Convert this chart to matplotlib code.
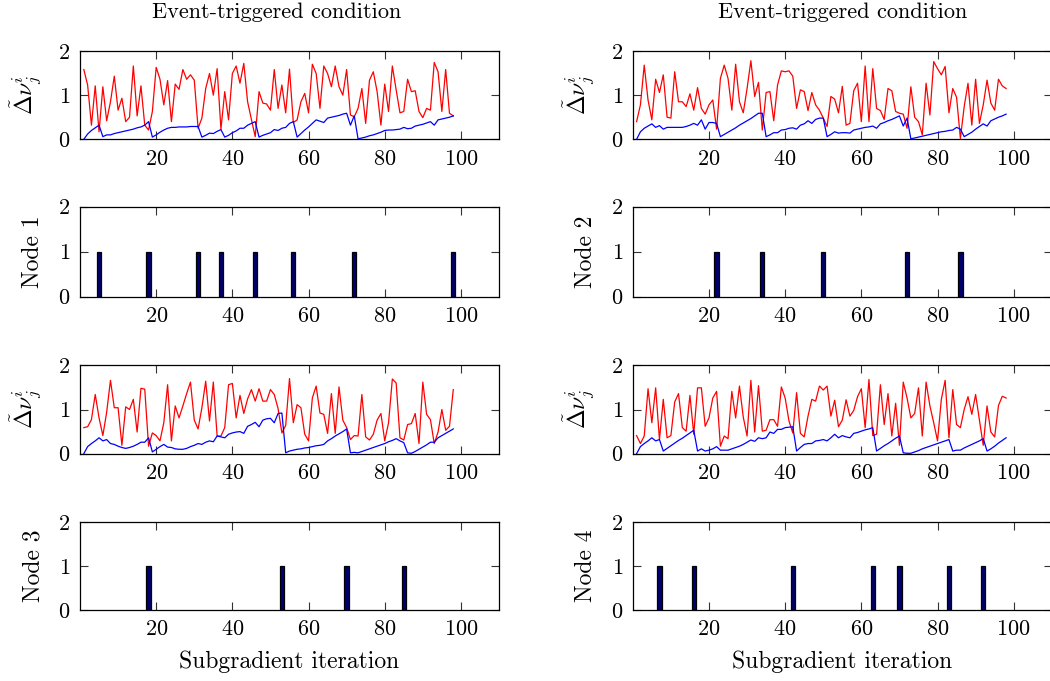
import numpy as np
import matplotlib
matplotlib.use("Agg")
import matplotlib.pyplot as plt

plt.rcParams['font.family'] = ['cmr10', 'DejaVu Serif']
plt.rcParams['mathtext.fontset'] = 'cm'
plt.rcParams['axes.formatter.use_mathtext'] = True

iters = np.arange(1, 99)

# event-triggered condition, node 1
cond1 = [1.58, 1.23, 0.32, 1.21, 0.17, 1.19, 0.42, 0.85, 1.43, 0.66,
         0.93, 0.40, 0.50, 1.66, 0.53, 1.21, 0.32, 0.21, 0.63, 1.63,
         1.36, 0.78, 1.33, 0.40, 1.25, 1.13, 1.58, 1.36, 1.46, 1.34,
         0.25, 0.48, 1.15, 1.49, 1.00, 1.60, 0.23, 1.08, 0.44, 1.49,
         1.66, 1.27, 1.72, 0.85, 0.45, 0.06, 1.08, 0.82, 0.80, 0.66,
         1.58, 0.70, 1.23, 0.60, 1.59, 0.38, 0.44, 0.85, 1.04, 0.60,
         1.70, 1.49, 0.70, 1.66, 1.49, 1.19, 1.66, 1.19, 1.00, 1.58,
         0.55, 0.51, 0.70, 1.15, 0.36, 1.34, 1.53, 1.08, 0.32, 1.25,
         0.63, 1.66, 1.12, 0.60, 0.63, 1.36, 1.08, 1.10, 0.63, 0.49,
         0.70, 0.66, 1.74, 1.53, 0.63, 1.58, 0.59, 0.53]
err1 = [0.00, 0.12, 0.20, 0.26, 0.32, 0.06, 0.10, 0.10, 0.13, 0.15,
        0.17, 0.19, 0.21, 0.23, 0.26, 0.28, 0.32, 0.40, 0.05, 0.10,
        0.16, 0.21, 0.25, 0.27, 0.27, 0.28, 0.28, 0.28, 0.29, 0.29,
        0.29, 0.05, 0.09, 0.14, 0.13, 0.18, 0.22, 0.05, 0.09, 0.15,
        0.19, 0.25, 0.25, 0.32, 0.36, 0.40, 0.05, 0.09, 0.12, 0.15,
        0.22, 0.20, 0.25, 0.27, 0.36, 0.40, 0.05, 0.13, 0.21, 0.28,
        0.36, 0.44, 0.41, 0.38, 0.48, 0.50, 0.52, 0.54, 0.57, 0.59,
        0.32, 0.53, 0.01, 0.03, 0.05, 0.08, 0.10, 0.13, 0.16, 0.20,
        0.21, 0.21, 0.22, 0.23, 0.27, 0.24, 0.25, 0.30, 0.32, 0.34,
        0.37, 0.40, 0.32, 0.44, 0.46, 0.48, 0.50, 0.53]

# node 2
cond2 = [0.40, 0.78, 1.68, 0.89, 0.44, 1.36, 1.06, 1.46, 0.50, 0.48,
         1.53, 0.85, 0.85, 0.74, 1.03, 0.66, 1.17, 0.70, 0.57, 0.78,
         0.89, 0.23, 1.38, 1.68, 1.38, 0.66, 1.70, 0.85, 0.60, 1.15,
         1.78, 0.97, 1.29, 0.21, 1.06, 1.08, 0.42, 1.23, 1.55, 1.53,
         1.55, 1.43, 0.70, 1.12, 1.08, 0.65, 1.06, 0.78, 0.66, 0.48,
         0.29, 0.97, 0.91, 0.60, 1.20, 0.32, 0.36, 1.10, 1.27, 0.40,
         1.66, 0.40, 1.60, 0.70, 0.65, 0.45, 1.15, 1.10, 0.63, 0.59,
         0.57, 0.25, 1.19, 0.50, 0.40, 0.10, 1.27, 0.55, 1.76, 1.60,
         1.46, 1.65, 0.60, 1.15, 0.95, 0.02, 0.74, 1.27, 0.32, 1.36,
         0.36, 0.78, 1.34, 0.82, 0.66, 1.36, 1.21, 1.15]
err2 = [0.00, 0.17, 0.25, 0.30, 0.35, 0.27, 0.31, 0.23, 0.27, 0.27,
        0.27, 0.27, 0.27, 0.29, 0.32, 0.36, 0.32, 0.44, 0.23, 0.38,
        0.38, 0.36, 0.06, 0.11, 0.16, 0.21, 0.26, 0.32, 0.37, 0.42,
        0.47, 0.53, 0.59, 0.59, 0.06, 0.10, 0.15, 0.15, 0.21, 0.22,
        0.25, 0.26, 0.23, 0.32, 0.35, 0.42, 0.36, 0.45, 0.48, 0.48,
        0.06, 0.11, 0.17, 0.14, 0.15, 0.15, 0.14, 0.21, 0.23, 0.25,
        0.27, 0.28, 0.30, 0.25, 0.35, 0.38, 0.42, 0.45, 0.49, 0.53,
        0.30, 0.48, 0.01, 0.03, 0.05, 0.07, 0.09, 0.11, 0.13, 0.15,
        0.17, 0.18, 0.20, 0.21, 0.27, 0.23, 0.06, 0.11, 0.16, 0.23,
        0.29, 0.35, 0.30, 0.42, 0.46, 0.50, 0.53, 0.57]

# node 3
cond3 = [0.59, 0.61, 0.77, 1.34, 0.81, 0.41, 0.94, 1.66, 1.04, 1.04,
         0.19, 1.06, 1.00, 1.23, 0.49, 1.48, 1.46, 0.17, 0.47, 0.41,
         0.29, 0.70, 1.56, 0.29, 1.08, 0.81, 1.08, 1.36, 1.62, 0.76,
         0.56, 1.04, 1.64, 0.74, 1.62, 0.40, 0.40, 0.59, 1.56, 1.59,
         0.81, 1.32, 0.91, 1.24, 1.45, 1.19, 1.47, 1.19, 1.19, 1.45,
         1.34, 1.02, 0.47, 0.64, 1.70, 0.70, 1.11, 1.04, 0.44, 0.29,
         1.26, 1.53, 0.92, 0.89, 0.46, 1.36, 0.46, 1.51, 0.76, 0.59,
         0.32, 0.41, 0.40, 1.34, 0.38, 0.31, 0.44, 0.76, 0.91, 0.29,
         0.70, 1.69, 1.60, 0.36, 0.31, 0.66, 0.68, 0.91, 0.23, 1.62,
         0.89, 0.77, 0.23, 0.49, 1.00, 0.53, 0.62, 1.45]
err3 = [0.00, 0.16, 0.23, 0.29, 0.36, 0.29, 0.32, 0.23, 0.21, 0.17,
        0.14, 0.12, 0.14, 0.17, 0.21, 0.26, 0.26, 0.36, 0.04, 0.10,
        0.16, 0.21, 0.15, 0.14, 0.11, 0.10, 0.10, 0.12, 0.16, 0.19,
        0.23, 0.21, 0.26, 0.29, 0.27, 0.40, 0.38, 0.36, 0.44, 0.47,
        0.49, 0.50, 0.46, 0.62, 0.66, 0.71, 0.61, 0.76, 0.79, 0.80,
        0.70, 0.91, 0.92, 0.02, 0.06, 0.08, 0.10, 0.11, 0.13, 0.14,
        0.16, 0.18, 0.19, 0.21, 0.29, 0.34, 0.40, 0.45, 0.50, 0.56,
        0.02, 0.03, 0.02, 0.05, 0.08, 0.11, 0.14, 0.17, 0.20, 0.23,
        0.27, 0.30, 0.34, 0.29, 0.25, 0.02, 0.01, 0.05, 0.10, 0.15,
        0.20, 0.26, 0.26, 0.36, 0.41, 0.46, 0.51, 0.56]

# node 4
cond4 = [0.41, 0.23, 0.40, 1.47, 0.70, 1.49, 0.32, 1.23, 0.36, 0.41,
         1.17, 1.36, 0.59, 0.51, 1.32, 0.44, 1.49, 1.49, 0.62, 0.81,
         1.26, 1.41, 0.17, 0.40, 0.34, 1.41, 0.81, 1.53, 0.83, 0.40,
         1.66, 0.49, 1.54, 0.51, 0.53, 0.77, 0.77, 0.62, 1.51, 1.26,
         0.74, 0.47, 1.38, 0.46, 0.38, 0.85, 1.23, 1.19, 1.53, 1.44,
         1.53, 0.85, 1.21, 0.61, 0.76, 1.22, 0.85, 0.98, 1.29, 1.47,
         0.59, 1.68, 0.41, 0.44, 1.56, 0.66, 1.36, 0.40, 1.14, 0.19,
         1.62, 1.26, 0.81, 0.91, 1.49, 0.40, 1.62, 1.08, 0.70, 0.29,
         1.23, 1.66, 0.36, 1.45, 0.66, 0.59, 1.00, 1.29, 0.89, 1.34,
         0.76, 0.19, 1.08, 0.49, 0.38, 1.09, 1.30, 1.26]
err4 = [0.00, 0.16, 0.23, 0.29, 0.36, 0.29, 0.32, 0.06, 0.12, 0.18,
        0.24, 0.30, 0.35, 0.41, 0.47, 0.53, 0.06, 0.11, 0.06, 0.08,
        0.11, 0.16, 0.08, 0.08, 0.08, 0.11, 0.14, 0.17, 0.21, 0.26,
        0.31, 0.28, 0.36, 0.34, 0.36, 0.49, 0.46, 0.55, 0.55, 0.59,
        0.60, 0.61, 0.06, 0.14, 0.21, 0.23, 0.23, 0.29, 0.30, 0.32,
        0.29, 0.36, 0.44, 0.36, 0.41, 0.38, 0.36, 0.46, 0.48, 0.51,
        0.54, 0.56, 0.59, 0.06, 0.12, 0.18, 0.23, 0.29, 0.35, 0.40,
        0.02, 0.01, 0.01, 0.04, 0.07, 0.11, 0.14, 0.17, 0.20, 0.23,
        0.26, 0.29, 0.32, 0.06, 0.08, 0.08, 0.13, 0.17, 0.21, 0.25,
        0.29, 0.34, 0.06, 0.11, 0.17, 0.24, 0.30, 0.36]

# iterations at which each node broadcasts
events1 = [5, 18, 31, 37, 46, 56, 72, 98]
events2 = [22, 34, 50, 72, 86]
events3 = [18, 53, 70, 85]
events4 = [7, 16, 42, 63, 70, 83, 92]

nodes = [(cond1, err1, events1), (cond2, err2, events2),
         (cond3, err3, events3), (cond4, err4, events4)]

FS = 16


def style_axes(ax):
    ax.set_xlim(0, 110)
    ax.set_ylim(0, 2)
    ax.set_xticks([20, 40, 60, 80, 100])
    ax.set_yticks([0, 1, 2])
    ax.tick_params(direction='in', top=True, right=True, length=6,
                   width=0.8, color='#333333', labelsize=FS, pad=7)
    for s in ax.spines.values():
        s.set_linewidth(0.9)
        s.set_color('black')


fig = plt.figure(figsize=(10.5, 6.81), dpi=100)

W, H = 1050.0, 681.0
lefts = [80.0, 632.8]
width = 419.0
# top/bottom pixel rows of the four panel rows
rows = [(51.0, 139.3), (206.7, 296.7), (365.3, 453.7), (522.3, 610.0)]

for k, (cond, err, events) in enumerate(nodes):
    col = k % 2
    pair = k // 2
    x0 = lefts[col] / W

    top, bot = rows[2 * pair]
    ax = fig.add_axes([x0, 1 - bot / H, width / W, (bot - top) / H])
    ax.plot(iters, cond, color='red', lw=0.9)
    ax.plot(iters, err, color='blue', lw=0.9)
    style_axes(ax)
    ax.set_ylabel(r'$\tilde{\Delta}\nu_j^i$', fontsize=FS + 1)
    ax.yaxis.set_label_coords(-0.085, 0.5)
    if pair == 0:
        ax.set_title('Event-triggered condition', fontsize=FS, pad=24,
                     x=0.47 if col == 0 else 0.5)

    top, bot = rows[2 * pair + 1]
    bx = fig.add_axes([x0, 1 - bot / H, width / W, (bot - top) / H])
    bx.bar(events, np.ones(len(events)), width=1.15, color='#000070',
           edgecolor='black', linewidth=0.9)
    style_axes(bx)
    bx.set_ylabel('Node %d' % (k + 1), fontsize=FS + 1)
    bx.yaxis.set_label_coords(-0.085, 0.5)
    if pair == 1:
        bx.set_xlabel('Subgradient iteration', fontsize=FS + 1, labelpad=8)

fig.savefig('out.png', dpi=100)
